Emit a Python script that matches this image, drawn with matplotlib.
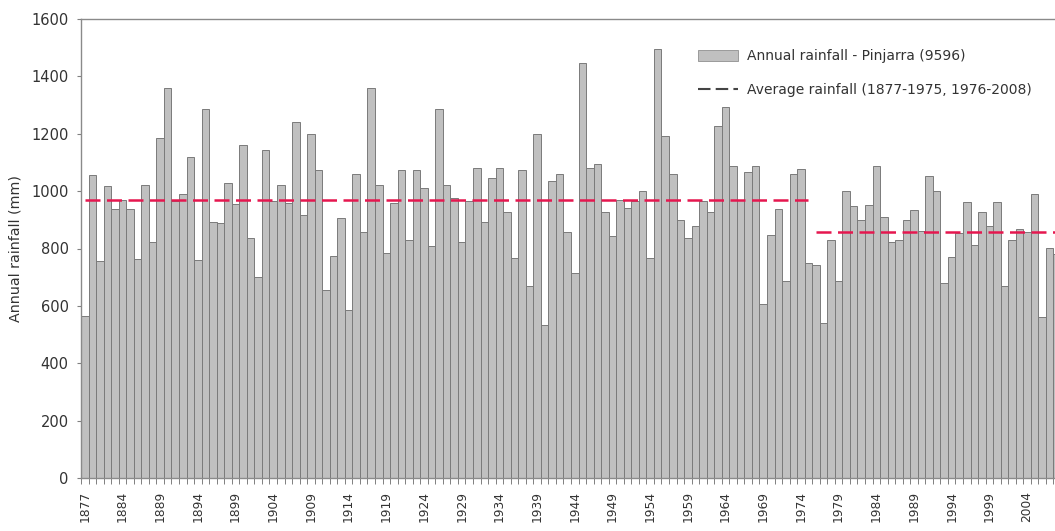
import matplotlib
matplotlib.use("Agg")
import matplotlib.pyplot as plt
from matplotlib.lines import Line2D
from matplotlib.patches import Patch
import numpy as np

plt.rcParams['font.family'] = ['DejaVu Sans']

# years on the category axis (two early years missing from the record)
years = [1877, 1880, 1881, 1882, 1883] + list(range(1884, 2009))

# annual rainfall (mm)
rainfall = [
    565, 1055, 758, 1018, 937, 970, 937, 765, 1022, 822,
    1185, 1358, 965, 990, 1120, 760, 1285, 893, 890, 1030,
    955, 1160, 835, 702, 1143, 965, 1020, 960, 1242, 918,
    1198, 1075, 656, 773, 906, 585, 1060, 858, 1358, 1022,
    786, 960, 1072, 828, 1072, 1010, 808, 1287, 1022, 975,
    822, 965, 1080, 892, 1045, 1080, 926, 766, 1072, 668,
    1198, 535, 1034, 1060, 857, 714, 1445, 1080, 1095, 926,
    842, 970, 940, 965, 1001, 766, 1495, 1191, 1060, 898,
    837, 877, 964, 926, 1228, 1293, 1089, 970, 1065, 1086,
    606, 848, 937, 685, 1061, 1077, 751, 743, 541, 828,
    685, 1001, 947, 898, 950, 1086, 909, 822, 830, 898,
    935, 860, 1052, 1001, 679, 772, 853, 962, 813, 926,
    877, 962, 670, 828, 867, 857, 990, 562, 801, 780,
]

# average rainfall for the two periods
periods = [(1877, 1975), (1976, 2008)]
averages = [970, 857]

ytick_vals = [0, 200, 400, 600, 800, 1000, 1200, 1400, 1600]

fig = plt.figure(figsize=(10.55, 5.31), dpi=100)
# right edge of the plot runs just past the picture, as in the original
ax = fig.add_axes([81 / 1055, 53 / 531, 980 / 1055, 459 / 531])

x = np.arange(len(years))
ax.bar(x, rainfall, width=1.0, color='#c0c0c0', edgecolor='#7a7a7a',
       linewidth=0.7, zorder=2)

for (y0, y1), avg in zip(periods, averages):
    i0, i1 = years.index(y0), years.index(y1)
    ax.plot([i0, i1], [avg, avg], color='#e5174f', linewidth=1.8,
            dashes=(6, 2.6), zorder=3)

ax.set_xlim(-0.5, len(years) - 0.5)
ax.set_ylim(0, 1600)
ax.set_yticks(ytick_vals)
ax.tick_params(axis='y', labelsize=10.5, colors='#808080', labelcolor='#333333',
               length=3, width=0.8, pad=6)

ax.set_xticks(x[::5])
ax.set_xticklabels([str(years[i]) for i in x[::5]], rotation=90)
ax.set_xticks(np.arange(len(years) + 1) - 0.5, minor=True)
ax.tick_params(axis='x', which='major', length=0, labelsize=8.8,
               labelcolor='#333333', pad=9)
ax.tick_params(axis='x', which='minor', length=4, width=0.7, colors='#808080')

for side in ['left', 'top', 'bottom', 'right']:
    ax.spines[side].set_color('#8a8a8a')
    ax.spines[side].set_linewidth(1.0)

ax.set_ylabel('Annual rainfall (mm)', fontsize=10.3, color='#333333', labelpad=6)

handles = [Patch(facecolor='#c0c0c0', edgecolor='#9a9a9a', linewidth=0.7),
           Line2D([0], [0], color='#444444', linewidth=1.5, dashes=(6, 2.5))]
labels = ['Annual rainfall - Pinjarra (9596)',
          'Average rainfall (1877-1975, 1976-2008)']
ax.legend(handles, labels, loc='upper left', bbox_to_anchor=(0.617, 0.961),
          frameon=False, fontsize=10, handlelength=2.9, handleheight=0.8,
          labelspacing=1.4, handletextpad=0.6, labelcolor='#333333')

fig.savefig('out.png', dpi=100)
